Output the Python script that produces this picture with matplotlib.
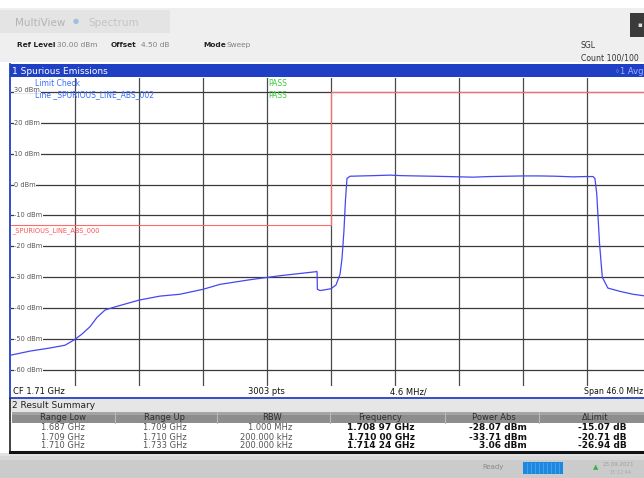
import numpy as np
import matplotlib.pyplot as plt
from matplotlib.patches import Rectangle

plt.rcParams['font.family'] = ['DejaVu Sans']

# sweep settings
CENTER_MHZ = 1710.0
SPAN_MHZ = 46.0
DIVS = 10
REF_LEVELS = [30, 20, 10, 0, -10, -20, -30, -40, -50, -60]

# averaged trace (MHz, dBm)
trace_freq = [1687.00, 1688.37, 1689.80, 1690.88, 1691.53, 1692.10, 1692.68, 1693.18,
              1693.76, 1694.47, 1696.20, 1697.71, 1699.15, 1700.80, 1702.02, 1704.18,
              1706.33, 1708.13, 1708.92, 1708.97, 1709.00, 1709.02, 1709.21, 1709.64,
              1710.00, 1710.36, 1710.65, 1710.79, 1710.93, 1711.04, 1711.15, 1711.37,
              1712.2, 1713.1, 1714.24, 1715.0, 1716.1, 1717.3, 1718.4, 1719.3,
              1720.2, 1721.4, 1722.6, 1723.8, 1725.0, 1726.2, 1727.4, 1728.3,
              1728.83, 1728.97, 1729.10, 1729.30, 1729.50, 1729.90, 1730.80, 1731.70,
              1732.50, 1733.00]
trace_dbm = [-55.2, -53.9, -52.9, -52.0, -50.3, -48.4, -46.0, -43.0,
             -40.6, -39.6, -37.4, -36.1, -35.5, -33.9, -32.3, -30.8,
             -29.5, -28.6, -28.2, -28.07, -28.3, -33.9, -34.3, -34.0,
             -33.71, -32.5, -29.0, -24.0, -15.0, -5.0, 2.0, 2.7,
             2.8, 2.9, 3.06, 2.9, 2.8, 2.7, 2.6, 2.5,
             2.4, 2.6, 2.7, 2.8, 2.8, 2.7, 2.5, 2.6,
             2.6, 2.0, -3.0, -19.0, -30.0, -33.5, -34.6, -35.5,
             -36.0, -36.2]

# limit lines
limit_freq = [1687.0, 1710.0, 1710.0, 1733.0]
limit_dbm = [-13.0, -13.0, 30.0, 30.0]

# result summary
range_low = ["1.687 GHz", "1.709 GHz", "1.710 GHz"]
range_up = ["1.709 GHz", "1.710 GHz", "1.733 GHz"]
rbw = ["1.000 MHz", "200.000 kHz", "200.000 kHz"]
peak_ghz = [1.70897, 1.71000, 1.71424]
peak_dbm = [-28.07, -33.71, 3.06]
range_limit = [-13.0, -13.0, 30.0]

fig = plt.figure(figsize=(6.44, 4.78), dpi=100)

# screen chrome in pixel coordinates
bg = fig.add_axes([0, 0, 1, 1])
bg.set_xlim(0, 644)
bg.set_ylim(478, 0)
bg.axis('off')


def box(x, y, w, h, color, **kw):
    bg.add_patch(Rectangle((x, y), w, h, facecolor=color, edgecolor='none', **kw))


box(0, 8, 644, 54, '#efefef')
box(0, 10, 170, 23, '#e4e4e4')
bg.text(15, 23, "MultiView", fontsize=7.5, color='#b4b4b4', va='center')
bg.text(73, 21, "\u25cf", fontsize=5, color='#9ec0e0', va='center')
bg.text(88, 23, "Spectrum", fontsize=7.5, color='#c4c4c4', va='center')
box(630, 13, 14, 24, '#3a3a3a')
bg.text(637, 25, "\u25aa", fontsize=5, color='#dddddd', va='center')

# instrument settings line
settings = [(17, "Ref Level", True), (57, "30.00 dBm", False), (111, "Offset", True),
            (141, "4.50 dB", False), (203, "Mode", True), (227, "Sweep", False)]
for sx, s, is_bold in settings:
    bg.text(sx, 45, s, fontsize=5.3, color='#222222' if is_bold else '#808080',
            fontweight='bold' if is_bold else 'normal', va='center')
bg.text(581, 45, "SGL", fontsize=5.6, color='#333333', va='center')
bg.text(581, 58, "Count 100/100", fontsize=5.6, color='#333333', va='center')

box(10, 64, 634, 13, '#1f3fc4')
bg.text(12, 71, "1 Spurious Emissions", fontsize=6.5, color='white', va='center')
bg.text(644, 71, "\u25e61 Avg", fontsize=6, color='#9fb4ff', va='center', ha='right')

# footer of the diagram
box(11, 386, 633, 12, 'white')
bg.text(13, 392, "CF 1.71 GHz", fontsize=6, color='#111111', va='center')
bg.text(248, 392, "3003 pts", fontsize=6, color='#111111', va='center')
bg.text(390, 392, "4.6 MHz/", fontsize=6, color='#111111', va='center')
bg.text(584, 392, "Span 46.0 MHz", fontsize=5.7, color='#111111', va='center')
bg.plot([10.5, 10.5], [64, 398], color='#2040c0', lw=1.3)
bg.plot([10, 644], [398, 398], color='#2040c0', lw=1.3)

# result summary table
box(10, 399, 634, 13, '#e6e6e6')
bg.text(12, 406, "2 Result Summary", fontsize=6.5, color='#222222', va='center')
box(12, 412, 632, 11, '#8d8d8d')
box(12, 412, 632, 3, '#a4a4a4')
for sx in [115, 217, 330, 445, 539]:
    bg.plot([sx, sx], [412, 423], color='#b8b8b8', lw=0.8)
headers = ["Range Low", "Range Up", "RBW", "Frequency", "Power Abs", "\u0394Limit"]
header_x = [63, 165, 272, 380, 494, 595]
for hx, h in zip(header_x, headers):
    bg.text(hx, 418, h, fontsize=6, color='#2e2e2e', ha='center', va='center')
box(12, 423, 632, 28, 'white')

row_y = [428, 437, 446]
for i, ry in enumerate(row_y):
    f_str = f"{peak_ghz[i]:.5f}"
    f_str = f_str[:5] + " " + f_str[5:] + " GHz"
    bg.text(63, ry, range_low[i], fontsize=6, color='#555555', ha='center', va='center')
    bg.text(165, ry, range_up[i], fontsize=6, color='#555555', ha='center', va='center')
    bg.text(292, ry, rbw[i], fontsize=6, color='#555555', ha='right', va='center')
    bg.text(415, ry, f_str, fontsize=6.5, color='#111111', ha='right', va='center',
            fontweight='bold')
    bg.text(527, ry, f"{peak_dbm[i]:.2f} dBm", fontsize=6.5, color='#111111', ha='right',
            va='center', fontweight='bold')
    bg.text(627, ry, f"{peak_dbm[i] - range_limit[i]:.2f} dB", fontsize=6.5,
            color='#111111', ha='right', va='center', fontweight='bold')
bg.plot([10.5, 10.5], [399, 452], color='#222222', lw=1.2)
bg.plot([10, 644], [451.5, 451.5], color='#111111', lw=2.2)

# status bar
box(0, 453, 644, 3, '#e2e2e2')
box(0, 456, 644, 22, '#cbcbcb')
box(0, 456, 644, 4, '#d8d8d8')
bg.text(482, 467, "Ready", fontsize=5, color='#8a8a8a', va='center')
box(523, 462, 40, 12, '#1e88e0')
for px in range(527, 563, 4):
    bg.plot([px, px], [463, 473], color='#55aaf0', lw=0.5)
bg.text(596, 467, "\u25b2", fontsize=5, color='#3cb050', va='center', ha='center')
bg.text(603, 465, "23.09.2021", fontsize=4, color='#a0a0a0', va='center')
bg.text(609, 472, "15:12:44", fontsize=3.5, color='#a8a8a8', va='center')

# spectrum diagram
ax = fig.add_axes([11 / 644, 92 / 478, 640 / 644, 308 / 478])
ax.set_facecolor('white')
f_start = CENTER_MHZ - SPAN_MHZ / 2
f_stop = CENTER_MHZ + SPAN_MHZ / 2
ax.set_xlim(f_start, f_stop)
ax.set_ylim(-65.2, 34.5)
ax.set_xticks([])
ax.set_yticks([])
for s in ax.spines.values():
    s.set_visible(False)

for i in range(1, DIVS):
    ax.axvline(f_start + i * SPAN_MHZ / DIVS, color='#4a4a4a', lw=0.9, zorder=1)
for lvl in REF_LEVELS:
    ax.axhline(lvl, color='#3a3a3a', lw=0.9, zorder=1)
    ax.annotate(f"{lvl} dBm", xy=(0, lvl), xycoords=('axes fraction', 'data'),
                xytext=(2.5, 0 if lvl != 30 else 1.5), textcoords='offset points',
                fontsize=4.8, color='#555555', va='center', ha='left', zorder=3,
                bbox=dict(facecolor='white', edgecolor='none', pad=0.3))

ax.plot(limit_freq, limit_dbm, color='#ff6a6a', lw=0.8, zorder=2)
ax.plot(trace_freq, trace_dbm, color='#4646f2', lw=0.9, zorder=4)

ax.annotate("_SPURIOUS_LINE_ABS_000", xy=(0, limit_dbm[0]), xycoords=('axes fraction', 'data'),
            xytext=(0.5, -4), textcoords='offset points', fontsize=4.8, color='#ff5050',
            va='center', ha='left', zorder=3)
ax.text(24 / 640, 1 - 6 / 308, "Limit Check", transform=ax.transAxes, fontsize=5.5,
        color='#3a6cff', va='center', zorder=5)
ax.text(24 / 640, 1 - 17 / 308, "Line _SPURIOUS_LINE_ABS_002", transform=ax.transAxes,
        fontsize=5.5, color='#3a6cff', va='center', zorder=5)
ax.text(257 / 640, 1 - 6 / 308, "PASS", transform=ax.transAxes, fontsize=5.5,
        color='#3ccc3c', va='center', zorder=5)
ax.text(257 / 640, 1 - 17 / 308, "PASS", transform=ax.transAxes, fontsize=5.5,
        color='#3ccc3c', va='center', zorder=5)

fig.savefig("out.png", dpi=100)
